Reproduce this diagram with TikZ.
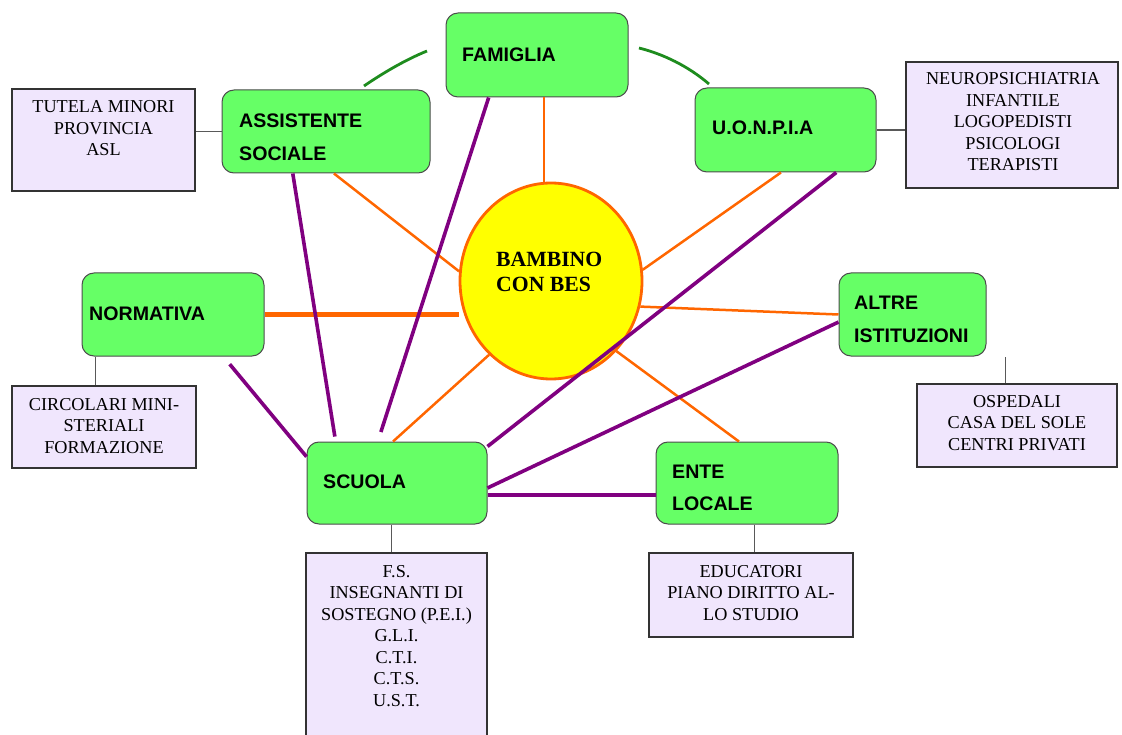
\documentclass[tikz,border=0pt]{standalone}
\usepackage{fontspec}
\setmainfont{Liberation Serif}
\newfontfamily\lsans{Liberation Sans}
\usetikzlibrary{calc,shapes.geometric}
\definecolor{gfill}{HTML}{66FF66}
\definecolor{lav}{HTML}{F0E6FD}
\definecolor{orng}{HTML}{FF6600}
\definecolor{purp}{HTML}{800080}
\definecolor{darkg}{HTML}{1E8C1E}
\definecolor{yel}{HTML}{FFFF00}
\begin{document}
\begin{tikzpicture}[x=1pt,y=-1pt,
  gbox/.style={draw=black!70, line width=1pt, fill=gfill, rounded corners=12pt, inner sep=0pt},
  lbox/.style={draw=black!80, line width=1.4pt, fill=lav, inner sep=0pt},
  oline/.style={draw=orng, line width=2.5pt},
  pline/.style={draw=purp, line width=3.6pt},
  gline/.style={draw=black!65, line width=1.4pt},
  arcline/.style={draw=darkg, line width=2.8pt},
  lbl/.style={font=\lsans\bfseries\fontsize{19.6}{32.5}\selectfont, inner sep=0pt, anchor=base west},
  stxt/.style={font=\fontsize{18.2}{21.5}\selectfont, inner sep=0pt, anchor=base},
  btxt/.style={font=\bfseries\fontsize{21.7}{25}\selectfont, inner sep=0pt, anchor=base west}]
\useasboundingbox (0,0) rectangle (1122,735);
\begin{scope}
\clip (0,0) rectangle (1122,735);
% boxes
\node[gbox, minimum width=182pt, minimum height=84pt] (fam) at (537,55) {};
\node[gbox, minimum width=208pt, minimum height=83pt] (ass) at (326,131.5) {};
\node[gbox, minimum width=181pt, minimum height=84pt] (uon) at (785.5,130) {};
\node[gbox, minimum width=182pt, minimum height=83pt] (norm) at (173,314.5) {};
\node[gbox, minimum width=147pt, minimum height=83pt] (altre) at (912.5,314.5) {};
\node[gbox, minimum width=180pt, minimum height=82pt] (scuola) at (397,483) {};
\node[gbox, minimum width=182pt, minimum height=82pt] (ente) at (747,483) {};
\node[ellipse, draw=orng, line width=2.8pt, fill=yel, minimum width=182pt, minimum height=196pt, inner sep=0pt] (bes) at (551,281) {};

\node[lbox, minimum width=183pt, minimum height=102pt] (tut) at (103.5,140) {};
\node[lbox, minimum width=212pt, minimum height=126pt] (neu) at (1012,125) {};
\node[lbox, minimum width=184pt, minimum height=82pt] (circ) at (104,427) {};
\node[lbox, minimum width=200pt, minimum height=83pt] (osp) at (1017,425.5) {};
\node[lbox, minimum width=204pt, minimum height=84pt] (edu) at (751,595) {};
\node[lbox, minimum width=181pt, minimum height=200pt] (fs) at (396.5,653) {};

% gray connectors
\draw[gline] (ass.west) -- (ass.west -| tut.east);
\draw[gline] (uon.east) -- (uon.east -| neu.west);
\draw[gline] ($(norm.south west)+(14,0)$) coordinate (nc) -- (nc |- circ.north);
\draw[gline] ($(osp.north west)+(89,0)$) coordinate (oc) -- (oc |- altre.south);
\draw[gline] ($(scuola.south west)+(85,0)$) coordinate (sc) -- (sc |- fs.north);
\draw[gline] ($(ente.south west)+(99,0)$) coordinate (ec) -- (ec |- edu.north);

% green arcs
\coordinate (ga1) at (364,86);
\coordinate (ga2) at (427,51);
\coordinate (ga3) at (639,48);
\coordinate (ga4) at (709,84);
\draw[arcline] (ga1) .. controls (383,73) and (405,60) .. (ga2);
\draw[arcline] (ga3) .. controls (663,54) and (688,66) .. (ga4);

% orange lines
\draw[oline] ($(fam.south west)!0.538!(fam.south east)$) coordinate (fo) -- (fo |- bes.north);
\draw[oline] ($(ass.south west)!0.538!(ass.south east)$) -- (bes.174);
\draw[oline] ($(uon.south west)!0.475!(uon.south east)$) -- (bes.7);
\draw[oline] (bes.-16) -- (altre.west);
\draw[oline] (bes.-47) -- ($(ente.north west)!0.456!(ente.north east)$);
\draw[oline] (bes.-130) -- ($(scuola.north west)!0.478!(scuola.north east)$);
\draw[oline, line width=5pt] (norm.east) -- (norm.east -| bes.west);

% purple lines
\draw[pline, shorten >=10pt] ($(fam.south west)!0.236!(fam.south east)$) -- ($(scuola.north west)!0.394!(scuola.north east)$);
\draw[pline, shorten >=5pt] ($(ass.south west)!0.341!(ass.south east)$) -- ($(scuola.north west)!0.161!(scuola.north east)$);
\draw[pline, shorten <=10pt] ($(norm.south west)!0.775!(norm.south east)$) -- ($(scuola.north west)!0.183!(scuola.south west)$);
\draw[pline] ($(uon.south west)!0.779!(uon.south east)$) -- ($(scuola.north east)!0.06!(scuola.south east)$);
\draw[pline] ($(altre.north west)!0.59!(altre.south west)$) -- ($(scuola.north east)!0.56!(scuola.south east)$);
\draw[pline, line width=4.5pt] ($(scuola.north east)!0.646!(scuola.south east)$) coordinate (se) -- (se -| ente.west);

% labels
\node[lbl] (tfam) at (462,62) {FAMIGLIA};
\node[lbl] (tass) at (239,128) {\begin{tabular}[t]{@{}l@{}}ASSISTENTE\\SOCIALE\end{tabular}};
\node[lbl] (tuon) at (712,135) {U.O.N.P.I.A};
\node[lbl] (tnorm) at (89,320) {NORMATIVA};
\node[lbl] (taltre) at (854,310) {\begin{tabular}[t]{@{}l@{}}ALTRE\\ISTITUZIONI\end{tabular}};
\node[lbl] (tscuola) at (323,488) {SCUOLA};
\node[lbl] (tente) at (672,478) {\begin{tabular}[t]{@{}l@{}}ENTE\\LOCALE\end{tabular}};
\node[btxt] (tbes) at (496,267) {\begin{tabular}[t]{@{}l@{}}BAMBINO\\CON BES\end{tabular}};

\node[stxt] (ttut) at (103.5,113) {\begin{tabular}[t]{@{}c@{}}TUTELA MINORI\\PROVINCIA\\ASL\end{tabular}};
\node[stxt] (tneu) at (1013,85) {\begin{tabular}[t]{@{}c@{}}NEUROPSICHIATRIA\\INFANTILE\\LOGOPEDISTI\\PSICOLOGI\\TERAPISTI\end{tabular}};
\node[stxt] (tcirc) at (104,410) {\begin{tabular}[t]{@{}c@{}}CIRCOLARI MINI-\\STERIALI\\FORMAZIONE\end{tabular}};
\node[stxt] (tosp) at (1017,407) {\begin{tabular}[t]{@{}c@{}}OSPEDALI\\CASA DEL SOLE\\CENTRI PRIVATI\end{tabular}};
\node[stxt] (tedu) at (751,577) {\begin{tabular}[t]{@{}c@{}}EDUCATORI\\PIANO DIRITTO AL-\\LO STUDIO\end{tabular}};
\node[stxt] (tfs) at (396.5,577) {\begin{tabular}[t]{@{}c@{}}F.S.\\INSEGNANTI DI\\SOSTEGNO (P.E.I.)\\G.L.I.\\C.T.I.\\C.T.S.\\U.S.T.\end{tabular}};
\end{scope}
\end{tikzpicture}
\end{document}
